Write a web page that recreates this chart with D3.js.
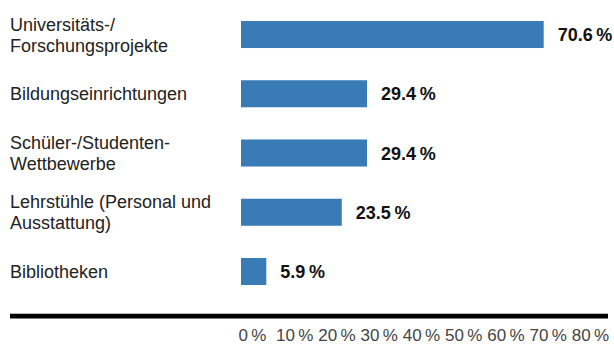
<!DOCTYPE html>
<html>
<head>
<meta charset="utf-8">
<script src="https://cdn.jsdelivr.net/npm/d3@7"></script>
<style>
  html, body { margin: 0; padding: 0; background: #fff; }
  svg { display: block; font-family: "Liberation Sans", Arial, Helvetica, sans-serif; }
</style>
</head>
<body>
<svg id="chart" width="614" height="347"></svg>
<script>
const categories = [
  "Universitäts-/\nForschungsprojekte",
  "Bildungseinrichtungen",
  "Schüler-/Studenten-\nWettbewerbe",
  "Lehrstühle (Personal und\nAusstattung)",
  "Bibliotheken"
];
const values = [70.6, 29.4, 29.4, 23.5, 5.9];
const tickValues = [0, 10, 20, 30, 40, 50, 60, 70, 80];

const svg = d3.select("#chart");

const x = d3.scaleLinear().domain([0, 80]).range([241, 584]);
const y = d3.scaleBand().domain(categories).range([21, 285]).paddingInner(0.544).paddingOuter(0);

const fmt = v => d3.format(".1f")(v) + "\u202F%";

// bars
svg.append("g").selectAll("rect").data(values).join("rect")
  .attr("x", x(0))
  .attr("y", (d, i) => y(categories[i]))
  .attr("width", d => x(d) - x(0))
  .attr("height", y.bandwidth())
  .attr("fill", "#387bb5");

// value labels
svg.append("g").selectAll("text").data(values).join("text")
  .attr("x", d => x(d) + 14)
  .attr("y", (d, i) => y(categories[i]) + y.bandwidth() / 2 + 6.5)
  .attr("font-size", 18)
  .attr("font-weight", "bold")
  .attr("fill", "#111")
  .text(d => fmt(d));

// category labels
const lh = 21;
const catG = svg.append("g");
categories.forEach(c => {
  const lines = c.split("\n");
  const cy = y(c) + y.bandwidth() / 2;
  const t = catG.append("text")
    .attr("x", 10)
    .attr("font-size", 18)
    .attr("fill", "#222");
  lines.forEach((ln, j) => {
    t.append("tspan")
      .attr("x", 10)
      .attr("y", cy + 6.5 + (j - (lines.length - 1) / 2) * lh)
      .text(ln);
  });
});

// baseline rule
svg.append("rect").attr("x", 10).attr("y", 313).attr("width", 598).attr("height", 1).attr("fill", "#bbb");
svg.append("rect").attr("x", 10).attr("y", 314).attr("width", 598).attr("height", 4.5).attr("fill", "#000");

// tick labels
const xt = d3.scaleLinear().domain([0, 80]).range([252, 590]);
const axis = d3.axisBottom(xt).tickValues(tickValues).tickSize(0).tickPadding(0)
  .tickFormat(d => d + "\u202F%");
const ag = svg.append("g").attr("transform", "translate(0,341)").call(axis);
ag.select(".domain").remove();
ag.selectAll("text")
  .attr("dy", null)
  .attr("y", 0)
  .attr("font-size", 17)
  .attr("font-family", "\"Liberation Sans\", Arial, sans-serif")
  .attr("fill", "#444");
</script>
</body>
</html>
